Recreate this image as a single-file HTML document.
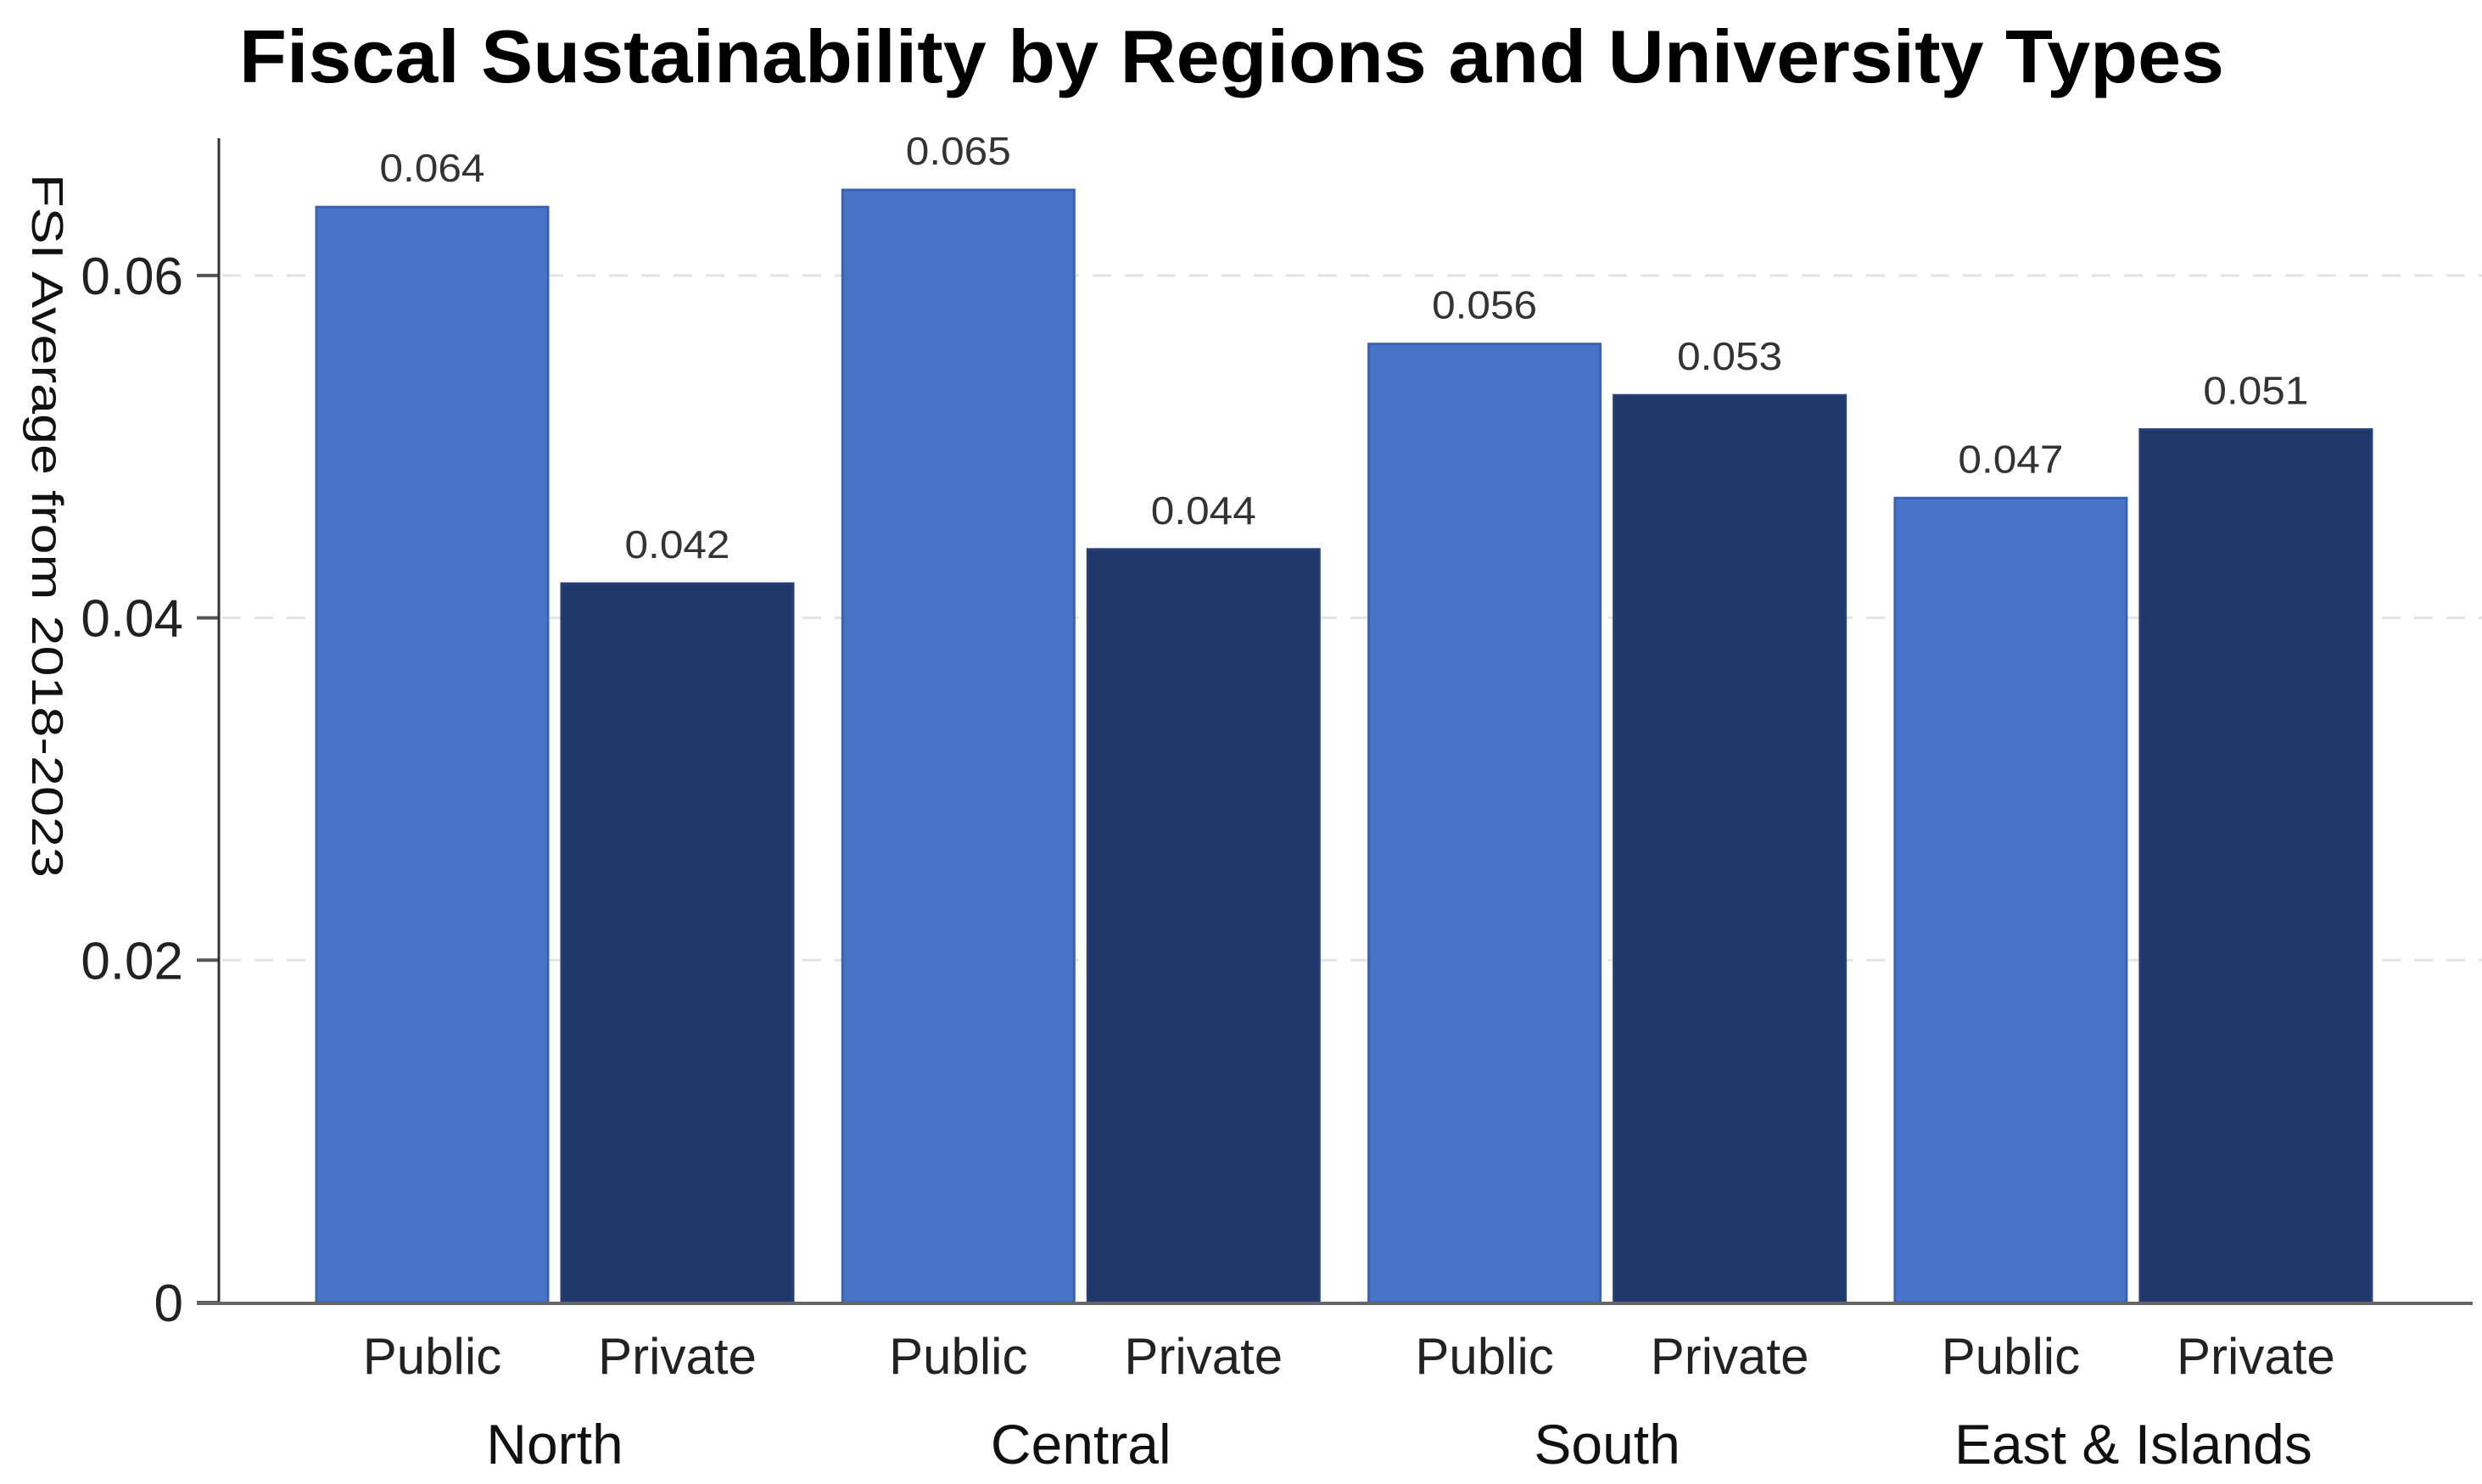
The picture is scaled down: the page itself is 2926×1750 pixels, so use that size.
<!DOCTYPE html>
<html><head><meta charset="utf-8"><style>
html,body{margin:0;padding:0;background:#fff;}
svg{display:block;}
text{font-family:"Liberation Sans",sans-serif;}
</style></head><body>
<svg id="chart" width="2926" height="1750" viewBox="0 0 2926 1750" xmlns="http://www.w3.org/2000/svg">
<text x="1452" y="97" text-anchor="middle" font-size="88" font-weight="bold" textLength="2340" lengthAdjust="spacingAndGlyphs" fill="#000">Fiscal Sustainability by Regions and University Types</text>
<text transform="translate(38,620) rotate(90)" text-anchor="middle" font-size="52" textLength="830" lengthAdjust="spacingAndGlyphs" fill="#111">FSI Average from 2018-2023</text>
<g id="grid"></g>
<g id="bars"></g>
<g id="labels"></g>
<line x1="258" y1="163" x2="258" y2="1537" stroke="#333" stroke-width="3"/>
<line x1="232" y1="1537" x2="2915" y2="1537" stroke="#666" stroke-width="4"/>
</svg>
<script>
const regions = ["North","Central","South","East & Islands"];
const types = ["Public","Private"];
const publicValues = [0.064,0.065,0.056,0.047];
const privateValues = [0.042,0.044,0.053,0.051];
const valueLabels = [["0.064","0.042"],["0.065","0.044"],["0.056","0.053"],["0.047","0.051"]];
const yTicks = [0,0.02,0.04,0.06];
const yTickLabels = ["0","0.02","0.04","0.06"];

const NS="http://www.w3.org/2000/svg";
const y0=1536, pxPerUnit=403.7/0.02;
function yScale(v){return y0 - v*pxPerUnit;}
const groupStart=373, groupStep=620.3, barW=273, barGap=16;
function xBar(g,t){return groupStart + g*groupStep + t*(barW+barGap);}
function mk(tag,attrs,parent){const e=document.createElementNS(NS,tag);for(const k in attrs)e.setAttribute(k,attrs[k]);parent.appendChild(e);return e;}
const grid=document.getElementById('grid'), bars=document.getElementById('bars'), labels=document.getElementById('labels');

yTicks.forEach((v,i)=>{
  const y=yScale(v);
  if(v>0){
    const gl=mk('line',{x1:262,y1:y,x2:2926,y2:y,stroke:'#e4e4e4','stroke-width':3,'stroke-dasharray':'22 16'},grid);
    
    
  }
  const tk=mk('line',{x1:232,y1:y,x2:258,y2:y,stroke:'#555','stroke-width':4},grid);
  
  
  const t=mk('text',{x:216,y:y+22,'text-anchor':'end','font-size':62,fill:'#222'},grid);
  
  
  t.textContent=yTickLabels[i];
});

regions.forEach((r,g)=>{
  [publicValues[g],privateValues[g]].forEach((v,t)=>{
    const x=xBar(g,t), y=yScale(v);
    const b=mk('rect',{x:x,y:y,width:barW,height:y0-y,fill:t===0?'#4874C8':'#1F3869',stroke:t===0?'#3A62B4':'#243F7A','stroke-width':3},bars);
    
    
    const vl=mk('text',{x:x+barW/2,y:y-30,'text-anchor':'middle','font-size':46,fill:'#333',textLength:124,lengthAdjust:'spacingAndGlyphs'},labels);
    
    
    vl.textContent=valueLabels[g][t];
    const tl=mk('text',{x:x+barW/2,y:1620,'text-anchor':'middle','font-size':60,fill:'#222'},labels);
    
    
    tl.textContent=types[t];
  });
  const rl=mk('text',{x:xBar(g,0)+barW+barGap/2,y:1726,'text-anchor':'middle','font-size':66,fill:'#111'},labels);
  
  
  rl.textContent=r;
});
</script>
</body></html>
